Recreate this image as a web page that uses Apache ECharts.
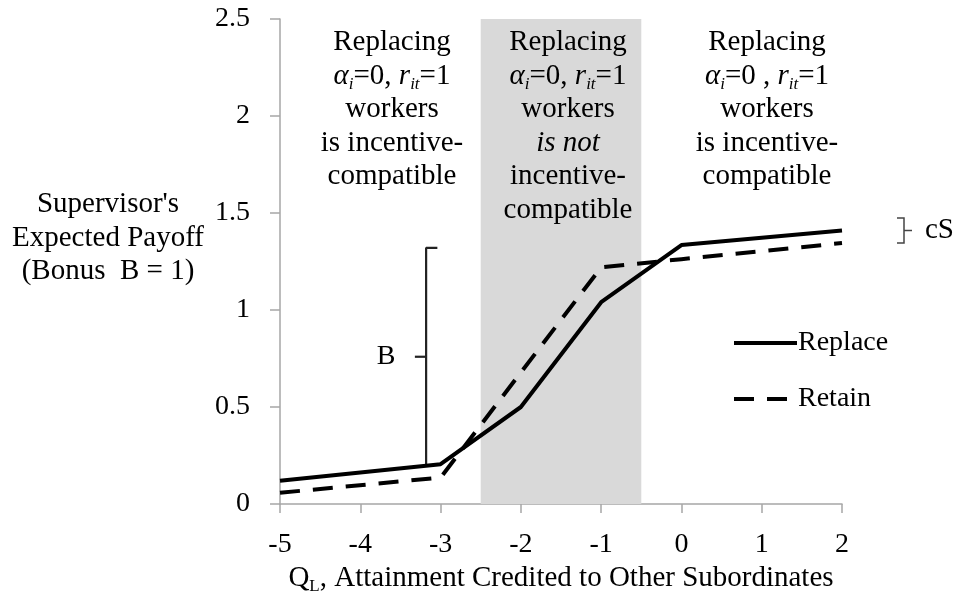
<!DOCTYPE html>
<html>
<head>
<meta charset="utf-8">
<script src="https://cdn.jsdelivr.net/npm/echarts@6/dist/echarts.min.js"></script>
<style>
html,body{margin:0;padding:0;background:#fff;}
#chart{width:959px;height:605px;}
</style>
</head>
<body>
<div id="chart"></div>
<script>
// ---- data ----
var xTicks = [-5, -4, -3, -2, -1, 0, 1, 2];
var replaceX = [-5, -3, -2, -1, 0, 2];
var replaceY = [0.12, 0.205, 0.5, 1.04, 1.335, 1.41];
var retainX = [-5, -3, -1, 0, 2];
var retainY = [0.058, 0.136, 1.22, 1.262, 1.345];
var bandRange = [-2.5, -0.5];
var bracketX = -3.18;
var bracketBottom = 0.198;
var bracketTop = 1.32;
var seriesNames = ['Replace', 'Retain'];

function pairs(xs, ys) { return xs.map(function (x, i) { return [x, ys[i]]; }); }

var FONT = '"Liberation Serif", "Times New Roman", serif';
var C = '#000';

var chart = echarts.init(document.getElementById('chart'), null, {renderer: 'canvas'});

var option = {
  animation: false,
  backgroundColor: '#fff',
  grid: {left: 280, right: 117, top: 19, bottom: 101, containLabel: false},
  xAxis: {
    type: 'value', min: -5, max: 2, interval: 1,
    axisLine: {show: true, onZero: false, lineStyle: {color: '#a6a6a6', width: 1.5}},
    axisTick: {show: true, length: 9, lineStyle: {color: '#a6a6a6', width: 1.5}},
    axisLabel: {margin: 27, fontFamily: FONT, fontSize: 28, color: C},
    splitLine: {show: false}
  },
  yAxis: {
    type: 'value', min: 0, max: 2.5, interval: 0.5,
    axisLine: {show: true, onZero: false, lineStyle: {color: '#a6a6a6', width: 1.5}},
    axisTick: {show: true, length: 10, lineStyle: {color: '#a6a6a6', width: 1.5}},
    axisLabel: {margin: 30, fontFamily: FONT, fontSize: 28, color: C},
    splitLine: {show: false}
  },
  legend: {
    orient: 'vertical', left: 727, top: 323,
    itemWidth: 63, itemHeight: 30, itemGap: 26,
    data: seriesNames,
    itemStyle: {opacity: 0},
    lineStyle: {width: 4},
    textStyle: {fontFamily: FONT, fontSize: 28, lineHeight: 30, color: C, padding: [0, 0, 0, -4]}
  },
  series: [
    {
      name: seriesNames[0], type: 'line', data: pairs(replaceX, replaceY),
      symbol: 'none', lineStyle: {color: C, width: 4}, itemStyle: {color: C}, z: 5,
      markArea: {
        silent: true,
        itemStyle: {color: '#d9d9d9'},
        data: [[{xAxis: bandRange[0], yAxis: 0}, {xAxis: bandRange[1], yAxis: 2.5}]]
      }
    },
    {
      name: seriesNames[1], type: 'line', data: pairs(retainX, retainY),
      symbol: 'none', lineStyle: {color: C, width: 4, type: [20, 13]}, itemStyle: {color: C}, z: 5
    },
    {
      name: 'bracketB', type: 'line', symbol: 'none', silent: true,
      data: [[bracketX, bracketBottom], [bracketX, bracketTop], [bracketX + 0.14, bracketTop]],
      lineStyle: {color: '#222', width: 2.2}, z: 4
    },
    {
      name: 'bracketTick', type: 'line', symbol: 'none', silent: true,
      data: [[bracketX - 0.14, (bracketBottom + bracketTop) / 2], [bracketX, (bracketBottom + bracketTop) / 2]],
      lineStyle: {color: '#222', width: 2.2}, z: 4
    }
  ]
};
chart.setOption(option);

var mid = (bracketBottom + bracketTop) / 2;
var bPos = chart.convertToPixel({gridIndex: 0}, [bracketX - 0.5, mid]);

var rich = {
  n: {fontFamily: FONT, fontSize: 29, lineHeight: 33.5, color: C},
  it: {fontFamily: FONT, fontSize: 29, lineHeight: 33.5, color: C, fontStyle: 'italic'},
  sub: {fontFamily: FONT, fontSize: 17, lineHeight: 22, color: C, fontStyle: 'italic', verticalAlign: 'bottom'}
};
var subL = {fontFamily: FONT, fontSize: 17, lineHeight: 20, color: C, verticalAlign: 'bottom'};

function block(x, lines) {
  return {
    type: 'text', x: x, y: 26, z: 100,
    style: {text: lines.join('\n'), rich: rich, align: 'center', verticalAlign: 'top', font: '29px ' + FONT, fill: C}
  };
}

chart.setOption({
  graphic: [
    block(392, ['{n|Replacing}', '{it|α}{sub|i}{n|=0, }{it|r}{sub|it}{n|=1}', '{n|workers}', '{n|is incentive-}', '{n|compatible}']),
    block(568, ['{n|Replacing}', '{it|α}{sub|i}{n|=0, }{it|r}{sub|it}{n|=1}', '{n|workers}', '{it|is not}', '{n|incentive-}', '{n|compatible}']),
    block(767, ['{n|Replacing}', '{it|α}{sub|i}{n|=0 , }{it|r}{sub|it}{n|=1}', '{n|workers}', '{n|is incentive-}', '{n|compatible}']),
    {
      type: 'text', x: 108, y: 188, z: 100,
      style: {text: "Supervisor's\nExpected Payoff\n(Bonus  B = 1)", font: '29px ' + FONT, lineHeight: 33.5, align: 'center', verticalAlign: 'top', fill: C}
    },
    {
      type: 'text', x: 561, y: 578, z: 100,
      style: {text: '{n|Q}{s|L}{n|, Attainment Credited to Other Subordinates}', rich: {n: rich.n, s: subL}, align: 'center', verticalAlign: 'middle', font: '29px ' + FONT, fill: C}
    },
    {
      type: 'text', x: 386, y: bPos[1], z: 100,
      style: {text: 'B', font: '28px ' + FONT, align: 'center', verticalAlign: 'middle', fill: C}
    },
    {
      type: 'polyline', z: 100, shape: {points: [[897, 218], [904, 218], [904, 243], [897, 243]]},
      style: {stroke: '#444', lineWidth: 1.5, fill: null}
    },
    {
      type: 'line', z: 100, shape: {x1: 904, y1: 230.5, x2: 912, y2: 230.5},
      style: {stroke: '#444', lineWidth: 1.5}
    },
    {
      type: 'text', x: 925, y: 230, z: 100,
      style: {text: 'cS', font: '29px ' + FONT, align: 'left', verticalAlign: 'middle', fill: C}
    }
  ]
});
</script>
</body>
</html>
